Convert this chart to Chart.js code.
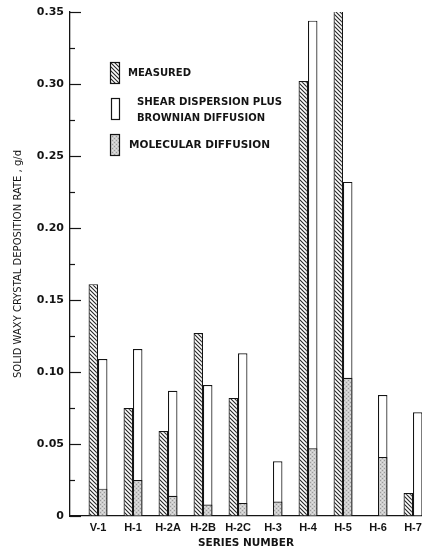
<!DOCTYPE html>
<html lang="en">
<head>
  <meta charset="UTF-8">
  <title>Solid Waxy Crystal Deposition Rate</title>
  <script src="https://cdn.jsdelivr.net/npm/chart.js"></script>
  <style>
    html, body { margin: 0; padding: 0; background: #fff; overflow: hidden; }
    #wrap { width: 422px; height: 552px; position: relative; }
  </style>
</head>
<body>
  <div id="wrap"><canvas id="myChart"></canvas></div>

  <script>
    // series names on the x axis
    let seriesNames = ['V-1', 'H-1', 'H-2A', 'H-2B', 'H-2C', 'H-3', 'H-4', 'H-5', 'H-6', 'H-7'];
    // deposition rates, g/d (null = no bar)
    let measured  = [0.161, 0.075, 0.059, 0.127, 0.082, null, 0.302, 0.351, null, 0.016];
    let shearPlusBrownian = [0.109, 0.116, 0.087, 0.091, 0.113, 0.038, 0.344, 0.232, 0.084, 0.072];
    let molecular = [0.019, 0.025, 0.014, 0.008, 0.009, 0.010, 0.047, 0.096, 0.041, null];
    let yTicks = [0, 0.05, 0.10, 0.15, 0.20, 0.25, 0.30, 0.35];

    let ink = '#141414';
    let wide = '"DejaVu Sans", Verdana, sans-serif';
    let narrow = '"Liberation Sans", Arial, sans-serif';

    // hatch pattern for the measured bars
    function hatch() {
      let c = document.createElement('canvas');
      c.width = 4; c.height = 4;
      let g = c.getContext('2d');
      g.fillStyle = '#fff';
      g.fillRect(0, 0, 4, 4);
      g.strokeStyle = '#262626';
      g.lineWidth = 1.1;
      g.beginPath();
      g.moveTo(-1, -1); g.lineTo(5, 5);
      g.moveTo(-1, 3); g.lineTo(1, 5);
      g.moveTo(3, -1); g.lineTo(5, 1);
      g.stroke();
      return g.createPattern(c, 'repeat');
    }

    // stipple pattern for molecular diffusion
    function stipple() {
      let c = document.createElement('canvas');
      c.width = 4; c.height = 4;
      let g = c.getContext('2d');
      g.fillStyle = '#cdcdcd';
      g.fillRect(0, 0, 4, 4);
      g.fillStyle = '#9a9a9a';
      g.fillRect(0, 0, 1, 1);
      g.fillRect(2, 2, 1, 1);
      g.fillStyle = '#e2e2e2';
      g.fillRect(2, 0, 1, 1);
      g.fillRect(0, 2, 1, 1);
      return g.createPattern(c, 'repeat');
    }

    let hatchFill = hatch();
    let dotFill = stipple();

    function points(arr) {
      return arr.map((v, i) => ({ x: i, y: v }));
    }

    // minor/major tick marks pointing into the plot, plus the legend
    let extras = {
      id: 'extras',
      afterDraw(chart) {
        let ctx = chart.ctx;
        let y = chart.scales.y;
        let left = chart.chartArea.left;
        ctx.save();
        ctx.strokeStyle = ink;
        ctx.lineWidth = 1.2;
        for (let i = 0; i <= 14; i++) {
          let v = i * 0.025;
          let py = Math.round(y.getPixelForValue(v)) + 0.5;
          let len = i % 2 === 0 ? 11 : 5;
          ctx.beginPath();
          ctx.moveTo(left, py);
          ctx.lineTo(left + len, py);
          ctx.stroke();
        }

        // legend
        ctx.lineWidth = 1.2;
        ctx.strokeStyle = ink;
        ctx.fillStyle = hatchFill;
        ctx.fillRect(110, 62, 10, 22);
        ctx.strokeRect(110.5, 62.5, 9, 21);
        ctx.fillStyle = '#fff';
        ctx.fillRect(111, 98, 9, 22);
        ctx.strokeRect(111.5, 98.5, 8, 21);
        ctx.fillStyle = dotFill;
        ctx.fillRect(110, 134, 10, 22);
        ctx.strokeRect(110.5, 134.5, 9, 21);

        ctx.fillStyle = ink;
        ctx.font = 'bold 11px ' + wide;
        ctx.textBaseline = 'middle';
        ctx.textAlign = 'left';
        ctx.fillText('MEASURED', 128, 73, 63);
        ctx.fillText('SHEAR DISPERSION PLUS', 137, 102, 145);
        ctx.fillText('BROWNIAN DIFFUSION', 137, 118, 128);
        ctx.fillText('MOLECULAR DIFFUSION', 129, 145, 141);
        ctx.restore();
      }
    };

    let ctx = document.getElementById('myChart').getContext('2d');

    new Chart(ctx, {
      type: 'bar',
      data: {
        datasets: [
          {
            label: 'Measured',
            data: points(measured),
            stack: 'm',
            backgroundColor: hatchFill,
            borderColor: ink,
            borderWidth: 1.2,
            order: 0
          },
          {
            label: 'Shear Dispersion Plus Brownian Diffusion',
            data: points(shearPlusBrownian),
            stack: 's',
            backgroundColor: '#fff',
            borderColor: ink,
            borderWidth: 1.2,
            order: 2
          },
          {
            label: 'Molecular Diffusion',
            data: points(molecular),
            stack: 's',
            backgroundColor: dotFill,
            borderColor: ink,
            borderWidth: 1.2,
            order: 1
          }
        ]
      },
      options: {
        responsive: true,
        maintainAspectRatio: false,
        animation: false,
        layout: { padding: { top: 12, right: 0, bottom: 0, left: 0 } },
        categoryPercentage: 0.54,
        barPercentage: 1,
        plugins: {
          legend: { display: false },
          tooltip: { enabled: false }
        },
        scales: {
          x: {
            type: 'linear',
            stacked: true,
            offset: false,
            min: -0.8,
            max: 9.257,
            grid: { display: true, offset: false, drawOnChartArea: false, drawTicks: false },
            border: { display: true, color: ink, width: 1.3 },
            afterBuildTicks: scale => {
              scale.ticks = seriesNames.map((n, i) => ({ value: i }));
            },
            afterFit: scale => {
              scale.height = 36;
              scale.paddingLeft = 0;
              scale.paddingRight = 0;
            },
            ticks: {
              autoSkip: false,
              maxRotation: 0,
              padding: 5,
              color: ink,
              font: { family: narrow, size: 11, weight: 'bold' },
              callback: v => seriesNames[v]
            },
            title: {
              display: true,
              text: 'SERIES NUMBER',
              color: ink,
              padding: { top: 0, bottom: 2 },
              font: { family: wide, size: 10.5, weight: 'bold' }
            }
          },
          y: {
            stacked: false,
            min: 0,
            max: 0.35,
            grid: { display: true, drawOnChartArea: false, drawTicks: false },
            border: { display: true, color: ink, width: 1.3 },
            afterBuildTicks: scale => {
              scale.ticks = yTicks.map(v => ({ value: v }));
            },
            afterFit: scale => {
              scale.width = 70;
              scale.paddingTop = 0;
              scale.paddingBottom = 0;
            },
            ticks: {
              padding: 6,
              color: ink,
              font: { family: wide, size: 11, weight: 'bold' },
              callback: v => v === 0 ? '0' : v.toFixed(2)
            },
            title: {
              display: true,
              text: 'SOLID WAXY CRYSTAL DEPOSITION RATE , g/d',
              color: ink,
              padding: { top: 12, bottom: 0 },
              font: { family: wide, size: 10 }
            }
          }
        }
      },
      plugins: [extras]
    });
  </script>
</body>
</html>
